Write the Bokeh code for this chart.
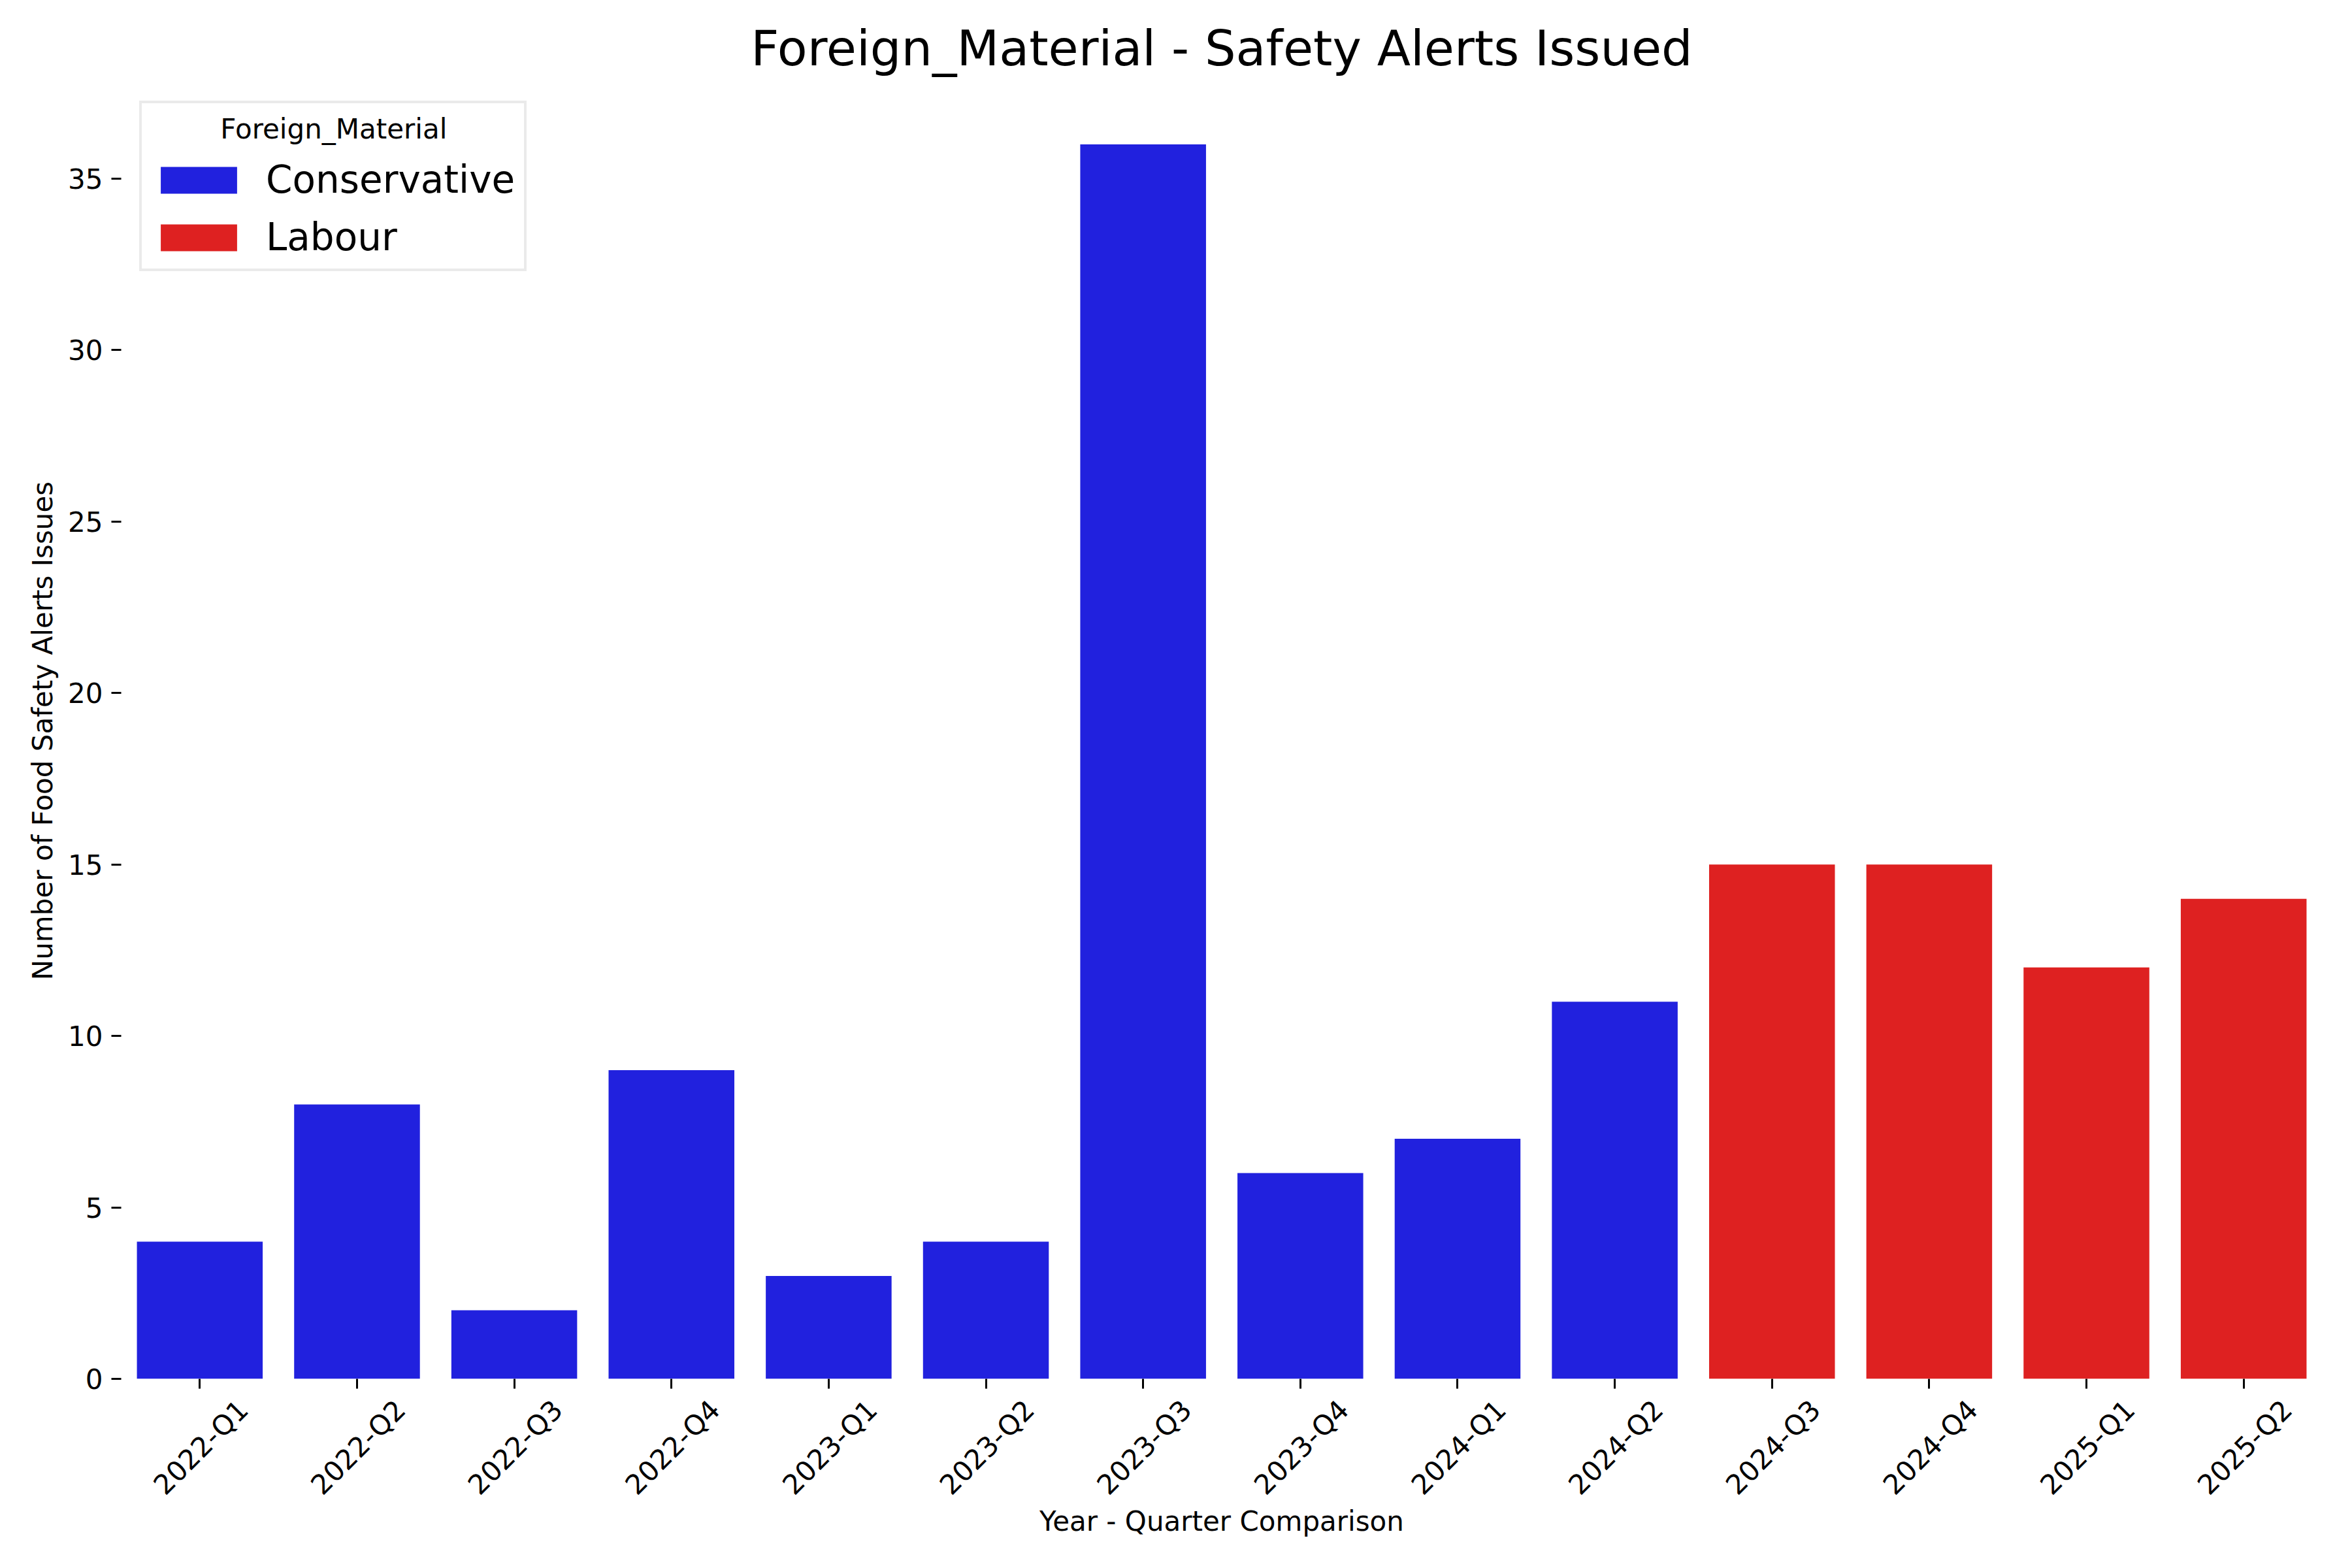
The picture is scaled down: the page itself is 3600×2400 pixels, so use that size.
import math
from bokeh.plotting import figure
from bokeh.models import (ColumnDataSource, Legend, LegendItem, FixedTicker, Range1d,
                          LinearAxis, Label)
from bokeh.embed import file_html
from bokeh.resources import INLINE

quarters = ["2022-Q1", "2022-Q2", "2022-Q3", "2022-Q4", "2023-Q1", "2023-Q2", "2023-Q3",
            "2023-Q4", "2024-Q1", "2024-Q2", "2024-Q3", "2024-Q4", "2025-Q1", "2025-Q2"]
alerts = [4, 8, 2, 9, 3, 4, 36, 6, 7, 11, 15, 15, 12, 14]
party = ["Conservative"] * 10 + ["Labour"] * 4
party_names = ["Conservative", "Labour"]
party_colors = {"Conservative": "#2121de", "Labour": "#de2121"}
y_ticks = [0, 5, 10, 15, 20, 25, 30, 35]
legend_title = "Foreign_Material"

FONT = "DejaVu Sans"
n = len(quarters)
positions = list(range(n))  # slot of each quarter on the x axis

p = figure(x_range=Range1d(-0.5, n - 0.5), y_range=(0, 37.8), width=3584, height=2384,
           output_backend="svg", toolbar_location=None,
           min_border_left=185, min_border_right=30, min_border_top=126, min_border_bottom=274)

renderers = {}
for name in party_names:
    xs = [i for i, pa in zip(positions, party) if pa == name]
    ys = [v for v, pa in zip(alerts, party) if pa == name]
    qs = [q for q, pa in zip(quarters, party) if pa == name]
    src = ColumnDataSource(dict(x=xs, top=ys, quarter=qs))
    renderers[name] = p.vbar(x="x", top="top", width=0.8, source=src,
                             fill_color=party_colors[name], line_color=None)

p.title.text = "Foreign_Material - Safety Alerts Issued"
p.title.align = "center"
p.title.text_font = FONT
p.title.text_font_size = "75px"
p.title.text_font_style = "normal"
p.title.text_color = "black"
p.title.standoff = 18

p.xgrid.visible = False
p.ygrid.visible = False
p.outline_line_color = None


def style_axis(ax):
    ax.axis_line_color = None
    ax.major_tick_line_color = "black"
    ax.major_tick_line_width = 3
    ax.major_tick_out = 15
    ax.major_tick_in = 0
    ax.minor_tick_line_color = None
    ax.major_label_text_font = FONT
    ax.major_label_text_font_size = "42px"
    ax.major_label_text_color = "black"
    ax.axis_label_text_font = FONT
    ax.axis_label_text_font_size = "42px"
    ax.axis_label_text_font_style = "normal"
    ax.axis_label_text_color = "black"


style_axis(p.yaxis[0])
p.yaxis.ticker = FixedTicker(ticks=y_ticks)
p.yaxis.major_label_standoff = 13
p.yaxis.axis_label = "Number of Food Safety Alerts Issues"
p.yaxis.axis_label_standoff = 11

# tick marks at the bar centres
style_axis(p.xaxis[0])
p.xaxis.ticker = FixedTicker(ticks=positions)
p.xaxis.major_label_overrides = {i: "" for i in positions}
p.xaxis.major_label_standoff = 0

# rotated quarter labels, centred under each tick
shift = 0.277
p.extra_x_ranges = {"labels": Range1d(-0.5 - shift, n - 0.5 - shift)}
label_axis = LinearAxis(x_range_name="labels", ticker=FixedTicker(ticks=positions),
                        major_label_overrides={i: q for i, q in zip(positions, quarters)})
style_axis(label_axis)
label_axis.major_tick_line_color = None
label_axis.major_tick_out = 0
label_axis.major_label_orientation = math.pi / 4
label_axis.major_label_standoff = 25
label_axis.axis_label = "Year - Quarter Comparison"
label_axis.axis_label_standoff = -14
p.add_layout(label_axis, "below")

legend = Legend(items=[LegendItem(label=nm, renderers=[renderers[nm]]) for nm in party_names],
                location="top_left")
legend.title = " "
legend.title_text_font = FONT
legend.title_text_font_size = "42px"
legend.title_standoff = 20
legend.label_text_font = FONT
legend.label_text_font_size = "58px"
legend.label_text_color = "black"
legend.glyph_width = 146
legend.glyph_height = 51
legend.label_standoff = 30
legend.label_height = 60
legend.spacing = 20
legend.padding = 14
legend.margin = 28
legend.border_line_color = "#d6d6d6"
legend.border_line_width = 4
legend.background_fill_alpha = 0
p.add_layout(legend)

p.add_layout(Label(x=0.852, y=36.45, x_units="data", y_units="data", text=legend_title,
                   text_font=FONT, text_font_size="42px", text_color="black",
                   text_align="center", text_baseline="middle", level="overlay"))

open("out.html", "w").write(file_html(p, INLINE))
